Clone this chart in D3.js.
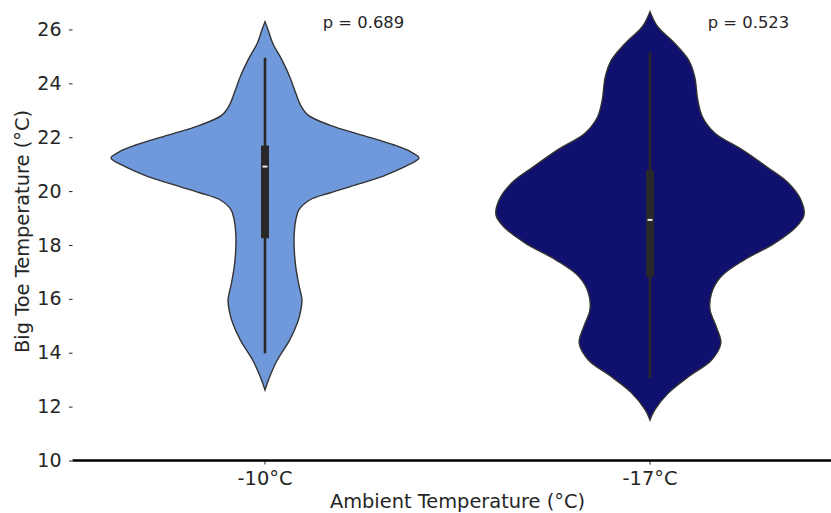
<!DOCTYPE html>
<html>
<head>
<meta charset="utf-8">
<script src="https://cdn.jsdelivr.net/npm/d3@7"></script>
<style>
  html, body { margin: 0; padding: 0; background: #fff; }
  svg text { font-family: "DejaVu Sans", sans-serif; fill: #262626; }
</style>
</head>
<body>
<svg id="chart" width="831" height="513"></svg>
<script>
// Ambient temperature groups
const categories = ["-10°C", "-17°C"];
const fills = ["#7099dc", "#10106f"];
const pLabels = ["p = 0.689", "p = 0.523"];

// Kernel density outline of each group: temperature (°C) and relative density (1 = widest)
const tempsA = [26.29, 25.98, 25.49, 24.87, 24.25, 23.63, 23.20, 22.82, 22.45, 22.08, 21.71, 21.45, 21.23, 20.97, 20.78, 20.52, 20.23, 19.93, 19.67, 19.30, 18.93, 18.45, 17.81, 17.18, 16.52, 15.96, 15.51, 15.10, 14.47, 13.73, 13.10, 12.62];
const densA = [0, 0.02, 0.05, 0.11, 0.16, 0.20, 0.23, 0.28, 0.42, 0.63, 0.84, 0.95, 1.0, 0.93, 0.86, 0.75, 0.59, 0.42, 0.29, 0.22, 0.20, 0.19, 0.19, 0.20, 0.22, 0.24, 0.23, 0.21, 0.16, 0.08, 0.03, 0];
const tempsB = [26.66, 26.10, 25.49, 24.87, 24.25, 23.39, 22.76, 22.16, 21.53, 20.89, 20.29, 19.67, 19.11, 18.68, 18.07, 17.44, 16.82, 16.22, 15.59, 14.97, 14.36, 13.73, 13.11, 12.51, 11.87, 11.50];
const densB = [0, 0.05, 0.16, 0.25, 0.29, 0.31, 0.34, 0.42, 0.60, 0.76, 0.90, 0.98, 1.0, 0.95, 0.81, 0.61, 0.46, 0.40, 0.39, 0.43, 0.46, 0.40, 0.25, 0.12, 0.03, 0];

// Box summary of each group: whisker low, Q1, median, Q3, whisker high
const whiskerLow = [13.98, 13.05];
const q1 = [18.25, 16.82];
const medians = [20.91, 18.93];
const q3 = [21.69, 20.78];
const whiskerHigh = [24.95, 25.14];

const yTicks = [10, 12, 14, 16, 18, 20, 22, 24, 26];
const yDomain = [10, 27];

const svg = d3.select("#chart");
const marginLeft = 72.5, plotBottom = 460.5, plotTop = 2.5;

const x = d3.scaleBand().domain(categories).range([marginLeft, marginLeft + 385 * 2]).padding(0);
const y = d3.scaleLinear().domain(yDomain).range([plotBottom, plotTop]);
const w = d3.scaleLinear().domain([0, 1]).range([0, x.bandwidth() * 0.4]);

const groups = [
  { temps: tempsA, dens: densA },
  { temps: tempsB, dens: densB }
];

const plot = svg.append("g");

groups.forEach((g, i) => {
  const cx = x(categories[i]) + x.bandwidth() / 2;
  const pts = g.temps.map((t, k) => ({ t, d: g.dens[k] }));
  const area = d3.area()
    .y(p => y(p.t))
    .x0(p => cx - w(p.d))
    .x1(p => cx + w(p.d))
    .curve(d3.curveCatmullRom.alpha(0.5));
  plot.append("path")
    .attr("d", area(pts))
    .attr("fill", fills[i])
    .attr("stroke", "#333333")
    .attr("stroke-width", 1.4);

  // whisker
  plot.append("line")
    .attr("x1", cx).attr("x2", cx)
    .attr("y1", y(whiskerLow[i])).attr("y2", y(whiskerHigh[i]))
    .attr("stroke", "#282828").attr("stroke-width", 2.6);
  // interquartile box
  plot.append("rect")
    .attr("x", cx - 4).attr("width", 8)
    .attr("y", y(q3[i])).attr("height", y(q1[i]) - y(q3[i]))
    .attr("fill", "#282828");
  // median mark
  plot.append("rect")
    .attr("x", cx - 2.5).attr("width", 5)
    .attr("y", y(medians[i]) - 1).attr("height", 2)
    .attr("fill", "#e6e6e6");

  // p-value annotation
  svg.append("text")
    .attr("x", cx + 0.15 * x.bandwidth())
    .attr("y", y(26.05))
    .attr("font-size", 16.4)
    .text(pLabels[i]);
});

// y axis: ticks and labels only
const yAxis = svg.append("g")
  .attr("transform", `translate(${marginLeft},0)`)
  .call(d3.axisLeft(y).tickValues(yTicks).tickSize(3.5).tickPadding(7.5).tickFormat(d3.format("d")));
yAxis.select(".domain").remove();
yAxis.selectAll(".tick line").attr("stroke", "#262626").attr("stroke-width", 1);
yAxis.selectAll(".tick text").attr("font-size", 19).attr("font-family", "DejaVu Sans").attr("fill", "#262626");

// x axis with heavy baseline
const xAxis = svg.append("g")
  .attr("transform", `translate(0,${plotBottom})`)
  .call(d3.axisBottom(x).tickSize(4).tickPadding(7));
xAxis.select(".domain").remove();
xAxis.selectAll(".tick line").attr("stroke", "#262626").attr("stroke-width", 1);
xAxis.selectAll(".tick text").attr("font-size", 19.4).attr("font-family", "DejaVu Sans").attr("fill", "#262626");
svg.append("line")
  .attr("x1", marginLeft).attr("x2", 831)
  .attr("y1", plotBottom).attr("y2", plotBottom)
  .attr("stroke", "#000").attr("stroke-width", 2.5);

// axis titles
svg.append("text")
  .attr("x", marginLeft + x.bandwidth())
  .attr("y", 508)
  .attr("text-anchor", "middle")
  .attr("font-size", 19.4)
  .text("Ambient Temperature (°C)");
svg.append("text")
  .attr("transform", `translate(29,${(plotBottom + plotTop) / 2}) rotate(-90)`)
  .attr("text-anchor", "middle")
  .attr("font-size", 19.4)
  .text("Big Toe Temperature (°C)");
</script>
</body>
</html>
